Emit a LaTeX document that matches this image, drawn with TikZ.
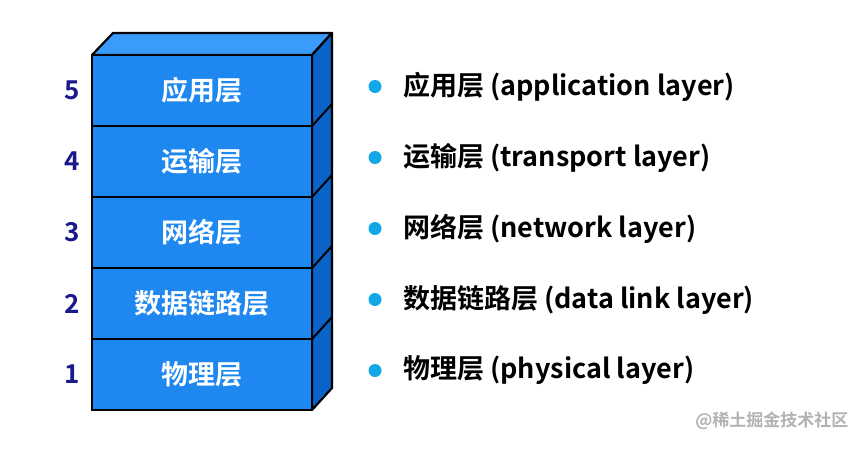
\documentclass[tikz,border=0pt]{standalone}
\usepackage{fontspec}
\setmainfont{Noto Sans CJK SC Bold}
\begin{document}
\begin{tikzpicture}[x=1pt,y=-1pt,
  front/.style={draw=black,line width=2.2pt,fill=frontc},
  lbl/.style={font=\fontsize{27}{30}\selectfont,text=white},
  num/.style={font=\fontsize{26}{30}\selectfont,text=numc},
  desc/.style={font=\fontsize{27}{30}\selectfont,anchor=west,inner sep=0pt},
  dot/.style={circle,fill=dotc,inner sep=0pt,minimum size=13pt}]
\definecolor{frontc}{HTML}{1E87F0}
\definecolor{topc}{HTML}{3A9CFA}
\definecolor{sidec}{HTML}{0A64C8}
\definecolor{numc}{HTML}{1A1A8C}
\definecolor{dotc}{HTML}{12A8E8}
\useasboundingbox (0,0) rectangle (867,448);
\fill[white] (0,0) rectangle (867,448);
% top & side
\draw[line width=2.2pt,fill=topc,line join=round] (92,55)--(113,33)--(332,33)--(312,55)--cycle;
\draw[line width=2.2pt,fill=sidec,line join=round] (312,55)--(332,33)--(332,388)--(312,410)--cycle;
\foreach \y in {126,197,268,339} \draw[line width=2pt] (312,\y)--(332,\y-22);
\foreach \i/\a/\b/\t/\n/\d in {5/55/126/应用层/5/{应用层 (application layer)},4/126/197/运输层/4/{运输层 (transport layer)},3/197/268/网络层/3/{网络层 (network layer)},2/268/339/数据链路层/2/{数据链路层 (data link layer)},1/339/410/物理层/1/{物理层 (physical layer)}}{
  \draw[front] (92,\a) rectangle (312,\b);
  \node[lbl] (L\i) at (202,{(\a+\b)/2}) {\t};
  \node[num] (N\i) at (72,{(\a+\b)/2}) {\n};
  \node[dot] (D\i) at (375,{(\a+\b)/2-4}) {};
  \node[desc] (T\i) at (403,{(\a+\b)/2-4}) {\d};
}
\node[font=\fontsize{17}{20}\selectfont,text=gray!60,anchor=east] (wm) at (852,421) {@稀土掘金技术社区};
\end{tikzpicture}
\end{document}
